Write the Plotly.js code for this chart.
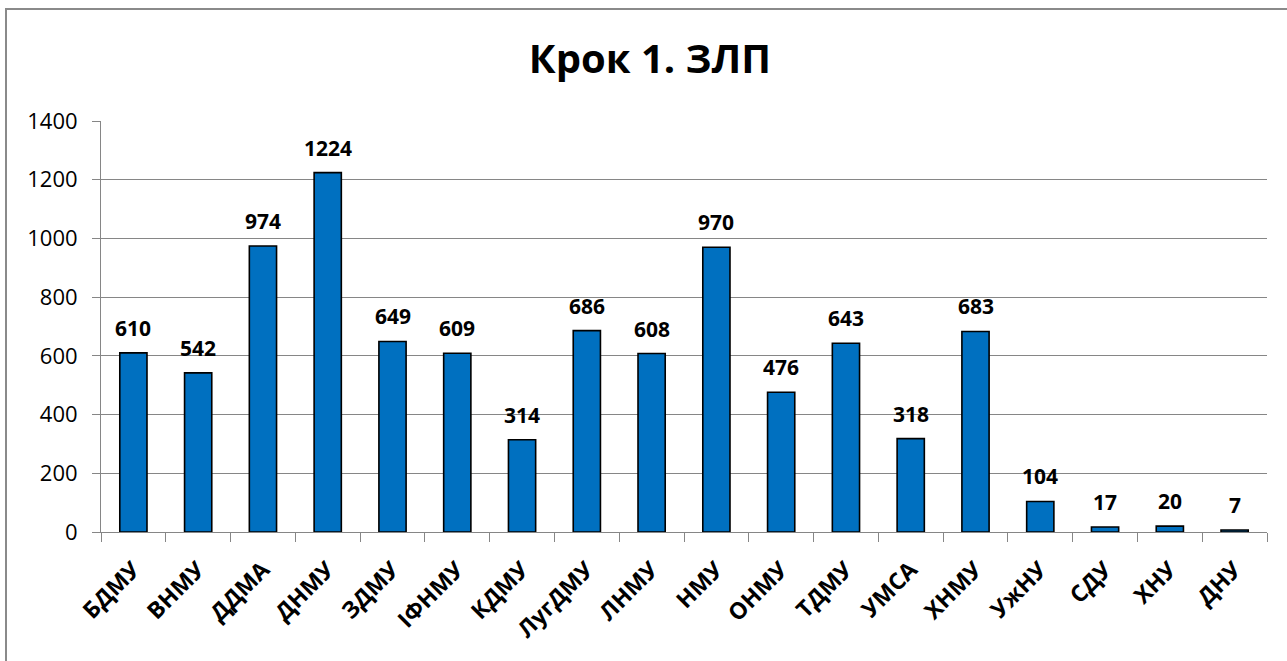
<!DOCTYPE html>
<html>
<head>
<meta charset="utf-8">
<script src="https://cdn.plot.ly/plotly-3.0.1.min.js"></script>
<style>
  html, body { margin: 0; padding: 0; background: #fff; }
  #chart { width: 1287px; height: 661px; }
  #frame { position: absolute; left: 5px; top: 8px; width: 1290px; height: 660px;
           border-left: 2px solid #8a8a8a; border-top: 2px solid #8a8a8a; pointer-events: none; }
</style>
</head>
<body>
<div id="chart"></div>
<div id="frame"></div>
<script>
const categories = ["БДМУ","ВНМУ","ДДМА","ДНМУ","ЗДМУ","ІФНМУ","КДМУ","ЛугДМУ","ЛНМУ","НМУ","ОНМУ","ТДМУ","УМСА","ХНМУ","УжНУ","СДУ","ХНУ","ДНУ"];
const values = [610,542,974,1224,649,609,314,686,608,970,476,643,318,683,104,17,20,7];
const yTicks = [0,200,400,600,800,1000,1200,1400];
const titleText = "Крок 1. ЗЛП";

const FONT = "Open Sans, Noto Sans, sans-serif";

const trace = {
  type: "bar",
  x: categories,
  y: values,
  marker: { color: "#0070C0", line: { color: "#000000", width: 1.6 } },
  hoverinfo: "x+y"
};

const annotations = categories.map((c, i) => ({
  x: c, y: values[i], xref: "x", yref: "y",
  text: String(values[i]), showarrow: false,
  yanchor: "bottom", yshift: 9,
  font: { family: FONT, size: 21, color: "#000", weight: "bold" }
}));

const layout = {
  width: 1287, height: 661,
  margin: { l: 101, r: 20, t: 121, b: 129 },
  paper_bgcolor: "#fff", plot_bgcolor: "#fff",
  title: { text: "<b>" + titleText + "</b>", font: { family: FONT, size: 40, color: "#000" },
           x: 0.505, xref: "container", y: 0.91, yref: "container", yanchor: "middle" },
  bargap: 0.58,
  showlegend: false,
  xaxis: {
    type: "category",
    tickangle: -45,
    ticks: "outside", tickson: "boundaries", ticklen: 9, tickcolor: "#868686", tickwidth: 1,
    ticklabelstandoff: 14,
    showline: true, linecolor: "#868686", linewidth: 1,
    showgrid: false,
    tickfont: { family: FONT, size: 23, color: "#000", weight: "bold" }
  },
  yaxis: {
    range: [0, 1400],
    tickvals: yTicks, ticktext: yTicks.map(String),
    ticks: "outside", ticklen: 8, tickcolor: "#868686", tickwidth: 1,
    ticklabelstandoff: 10,
    showline: true, linecolor: "#868686", linewidth: 1,
    showgrid: true, gridcolor: "#868686", gridwidth: 1,
    zeroline: false,
    tickfont: { family: FONT, size: 22, color: "#000" }
  },
  annotations: annotations
};

Plotly.newPlot("chart", [trace], layout, { displayModeBar: false, staticPlot: true });
</script>
</body>
</html>
